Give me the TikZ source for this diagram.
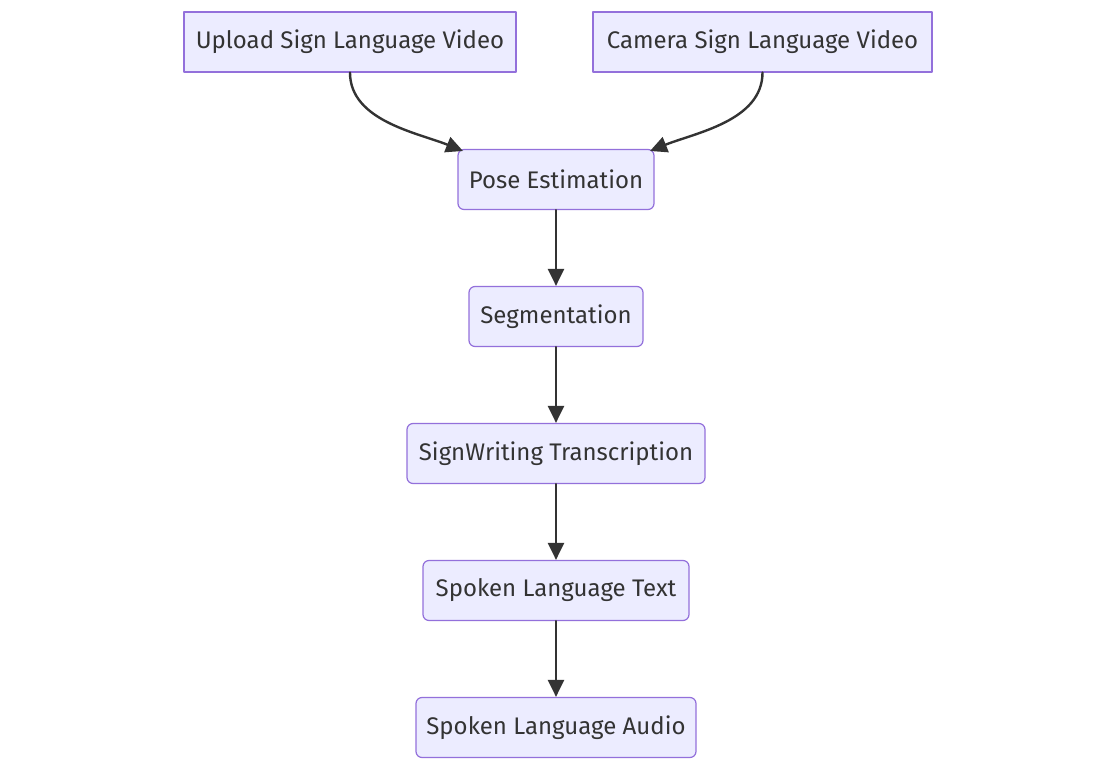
\documentclass[tikz,border=0pt]{standalone}
\usepackage{fontspec}
\setmainfont{Fira Sans}
\usepackage{xcolor}
\usepackage{tikz}
\usetikzlibrary{positioning,calc,arrows.meta,shapes.geometric}

\definecolor{boxfill}{HTML}{ECECFF}
\definecolor{boxline}{HTML}{9370DB}
\definecolor{ink}{HTML}{333333}

\begin{document}
\begin{tikzpicture}[
				x=0.5pt,y=-0.5pt,
				line cap=round,line join=round,
				stage/.style={draw=boxline, fill=boxfill, line width=0.6pt,
					rounded corners=3pt, minimum height=30pt,
					text=ink, font=\fontsize{12}{14}\selectfont},
				source/.style={stage, rounded corners=0pt},
				flow/.style={draw=ink, line width=1.2pt,
					-{Triangle[length=8.5pt,width=8pt]}}
				]
				% ---- canvas
				\useasboundingbox (0,0) rectangle (1116,770);
				
				% ---- input sources (square corners)
				\node[source, minimum width=166pt] (upload) at (350,42) {Upload Sign Language Video};
				\node[source, minimum width=169.5pt] (camera) at (762.5,42) {Camera Sign Language Video};
				
				% ---- pipeline
				\node[stage, minimum width=98pt]  (pose)  at (556,179.5) {Pose Estimation};
				\node[stage, minimum width=87pt]  (segm)  at (556,316.5) {Segmentation};
				\node[stage, minimum width=149pt] (swrit) at (556,453.5) {SignWriting Transcription};
				\node[stage, minimum width=133pt] (stext) at (556,590.5) {Spoken Language Text};
				\node[stage, minimum width=140pt] (saudio) at (556,727.5) {Spoken Language Audio};
				
				% arrow ends at the top corners of pose
				\coordinate (poseL) at (463,151);
				\coordinate (poseR) at (650,151);
				
				% ---- connectors
				\draw[flow] (upload.south) to[out=-90,in=158,looseness=0.9] (poseL);
				\draw[flow] (camera.south) to[out=-90,in=22,looseness=0.9] (poseR);
				
				\foreach \a/\b in {pose/segm,segm/swrit,swrit/stext,stext/saudio}{
					\draw[flow] (\a) -- (\b);
				}
			\end{tikzpicture}
\end{document}
